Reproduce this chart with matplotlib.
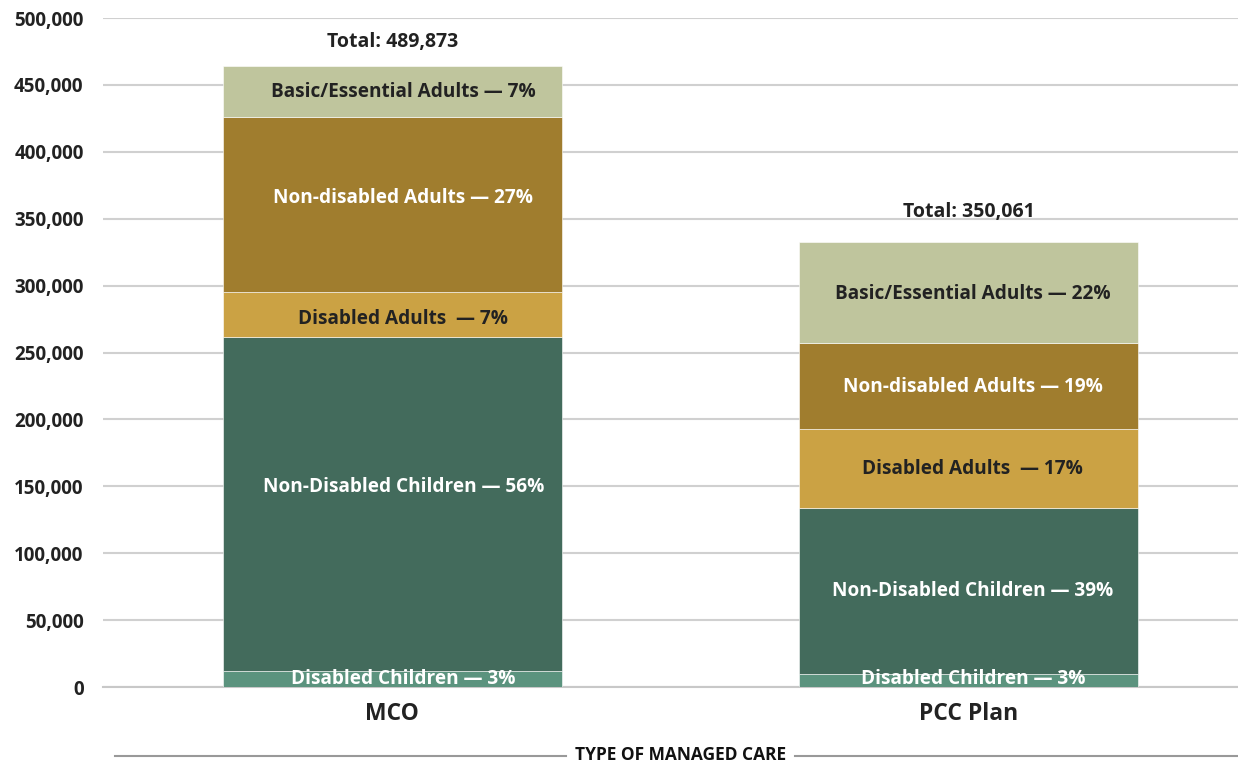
import matplotlib.pyplot as plt
import numpy as np
from matplotlib.lines import Line2D

plt.rcParams['font.family'] = ['Open Sans', 'DejaVu Sans']
plt.rcParams['font.weight'] = 'bold'

plans = ['MCO', 'PCC Plan']
totals = ['Total: 489,873', 'Total: 350,061']
groups = ['Disabled Children', 'Non-Disabled Children', 'Disabled Adults',
          'Non-disabled Adults', 'Basic/Essential Adults']
# values (enrollees)
disabled_children = [12000, 9700]
nondisabled_children = [249400, 123900]
disabled_adults = [33800, 59200]
nondisabled_adults = [130600, 64300]
basic_essential = [38300, 75700]
labels = [
    ['Disabled Children \u2014 3%', 'Disabled Children \u2014 3%'],
    ['Non-Disabled Children \u2014 56%', 'Non-Disabled Children \u2014 39%'],
    ['Disabled Adults  \u2014 7%', 'Disabled Adults  \u2014 17%'],
    ['Non-disabled Adults \u2014 27%', 'Non-disabled Adults \u2014 19%'],
    ['Basic/Essential Adults \u2014 7%', 'Basic/Essential Adults \u2014 22%'],
]
colors = ['#5B937E', '#436B5C', '#CBA244', '#A07D2E', '#BFC59D']
text_colors = ['white', 'white', '#222222', 'white', '#222222']
# small nudges of the labels, as in the original
nudge = [[0, 1000], [12500, 0], [-3000, 0], [5000, -500], [-500, -1500]]
x_shift = [0.019, 0.007]
total_gap = [18000, 22500]

series = [disabled_children, nondisabled_children, disabled_adults,
          nondisabled_adults, basic_essential]

fig = plt.figure(figsize=(12.38, 7.63), dpi=100)
ax = fig.add_axes([0.0832, 0.0996, 0.9168, 0.8768])

x = np.arange(len(plans))
bottom = np.zeros(len(plans))
for i, vals in enumerate(series):
    vals = np.array(vals, dtype=float)
    ax.bar(x, vals, 0.588, bottom=bottom, color=colors[i], zorder=3,
           edgecolor='white', linewidth=0.4)
    for j in range(len(plans)):
        ax.text(x[j] + x_shift[j], bottom[j] + vals[j] / 2 + nudge[i][j], labels[i][j],
                ha='center', va='center', fontsize=13.7, fontweight='bold',
                color=text_colors[i], zorder=4)
    bottom += vals

for j in range(len(plans)):
    ax.text(x[j], bottom[j] + total_gap[j], totals[j], ha='center', va='center',
            fontsize=14, fontweight='bold', color='#222222')

ax.set_ylim(0, 500000)
ax.set_xlim(-0.502, 1.467)
ax.set_yticks(np.arange(0, 500001, 50000))
ax.set_yticklabels(['{:,}'.format(v) for v in range(0, 500001, 50000)],
                   fontsize=13.5, fontweight='bold', color='#222222')
ax.set_xticks(x)
ax.set_xticklabels(plans, fontsize=16.5, fontweight='bold', color='#222222')
ax.tick_params(axis='both', length=0)
ax.tick_params(axis='y', pad=14)
ax.tick_params(axis='x', pad=11)
ax.yaxis.grid(True, color='#D0D0D0', linewidth=1.5, zorder=0)
for s in ['top', 'right', 'left']:
    ax.spines[s].set_visible(False)
ax.spines['bottom'].set_color('#C8C8C8')
ax.spines['bottom'].set_linewidth(1.5)
ax.spines['bottom'].set_zorder(2)

yl = (763 - 756) / 763
fig.text(680.5 / 1238, yl + 0.001, 'TYPE OF MANAGED CARE', ha='center', va='center',
         fontsize=12.5, fontweight='bold', color='#111111')
fig.add_artist(Line2D([115 / 1238, 566 / 1238], [yl, yl], color='#999999', lw=1.5))
fig.add_artist(Line2D([795 / 1238, 1.0], [yl, yl], color='#999999', lw=1.5))

fig.savefig('out.png', dpi=100)
